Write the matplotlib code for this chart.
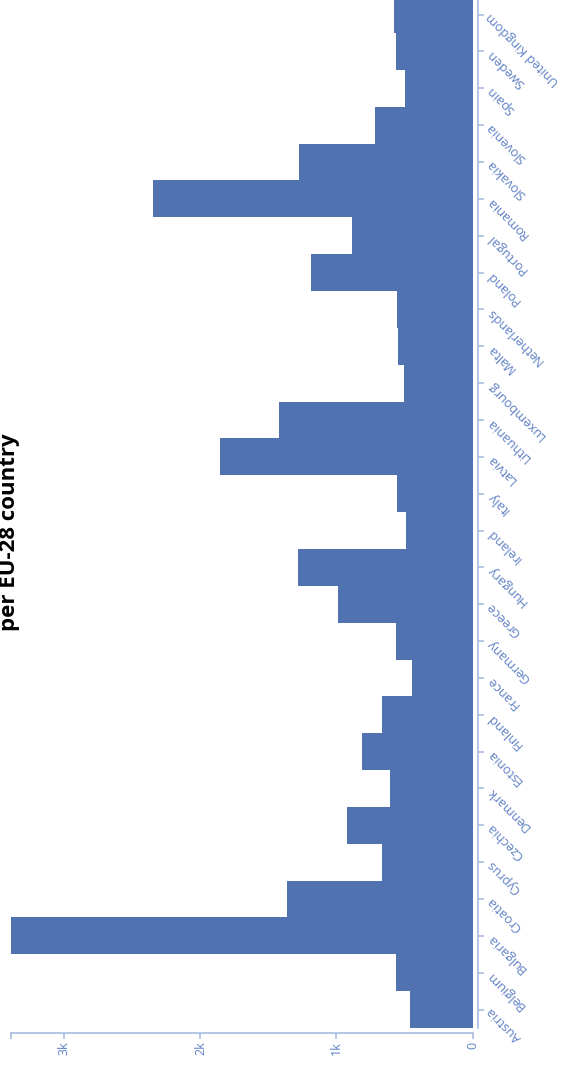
#!/usr/bin/python3
"""
Rotated bar chart: value per EU-28 country.
"""
import matplotlib.pyplot as plt
import numpy as np

# Data
countries = ['Austria', 'Belgium', 'Bulgaria', 'Croatia', 'Cyprus', 'Czechia',
             'Denmark', 'Estonia', 'Finland', 'France', 'Germany', 'Greece',
             'Hungary', 'Ireland', 'Italy', 'Latvia', 'Lithuania', 'Luxembourg',
             'Malta', 'Netherlands', 'Poland', 'Portugal', 'Romania', 'Slovakia',
             'Slovenia', 'Spain', 'Sweden', 'United Kingdom']
values = [457, 565, 3390, 1362, 665, 925,
          604, 810, 665, 443, 560, 987,
          1285, 489, 553, 1859, 1423, 506,
          550, 557, 1188, 888, 2347, 1276,
          717, 499, 565, 575]
value_ticks = [0, 1000, 2000, 3000]
value_tick_labels = ['0', '1k', '2k', '3k']
title = 'per EU-28 country'

BAR_COLOR = '#5072b0'
AXIS_COLOR = '#a9bbe0'
LABEL_COLOR = '#5f80c6'


def format_plotting():
    plt.rcParams['font.family'] = ['Open Sans', 'DejaVu Sans']
    plt.rcParams['font.size'] = 9
    plt.rcParams['savefig.dpi'] = 100
    return


def plot_rotated_bars():
    format_plotting()
    W, H = 562, 1067
    fig = plt.figure(figsize=(W / 100, H / 100), dpi=100)
    band = 36.85
    bottom_px = 1028
    left_px, right_px = 11.4, 472.5
    n = len(countries)
    ax = fig.add_axes([left_px / W, 1 - bottom_px / H,
                       (right_px - left_px) / W, n * band / H])

    y = np.arange(n)
    ax.barh(y, values, height=1.0, color=BAR_COLOR, linewidth=0)
    vmax = max(values)
    ax.set_xlim(vmax, 0)
    ax.set_ylim(-0.5, n - 0.5)

    for side in ['top', 'left']:
        ax.spines[side].set_visible(False)
    for side in ['bottom', 'right']:
        ax.spines[side].set_color(AXIS_COLOR)
        ax.spines[side].set_linewidth(1.2)
        ax.spines[side].set_position(('outward', 3.8))

    # value axis (bottom)
    ax.set_xticks(value_ticks + [vmax])
    ax.set_xticklabels(value_tick_labels + [''], rotation=90,
                       color=LABEL_COLOR, fontsize=9)
    ax.tick_params(axis='x', colors=AXIS_COLOR, length=4, width=1.2,
                   labelcolor=LABEL_COLOR, pad=2)

    # category axis (right)
    ax.yaxis.set_ticks_position('right')
    ax.set_yticks(y)
    ax.set_yticklabels(countries, rotation=135, rotation_mode='anchor',
                       ha='right', va='center', color=LABEL_COLOR,
                       fontsize=9.3)
    ax.tick_params(axis='y', colors=AXIS_COLOR, length=4, width=1.2,
                   labelcolor=LABEL_COLOR, pad=4)

    fig.text(9.5 / W, 1 - 532 / H, title, rotation=90, ha='center',
             va='center', fontsize=16, fontweight='bold', color='black')

    fig.savefig('out.png', dpi=100)
    return


if __name__ == "__main__":
    plot_rotated_bars()
